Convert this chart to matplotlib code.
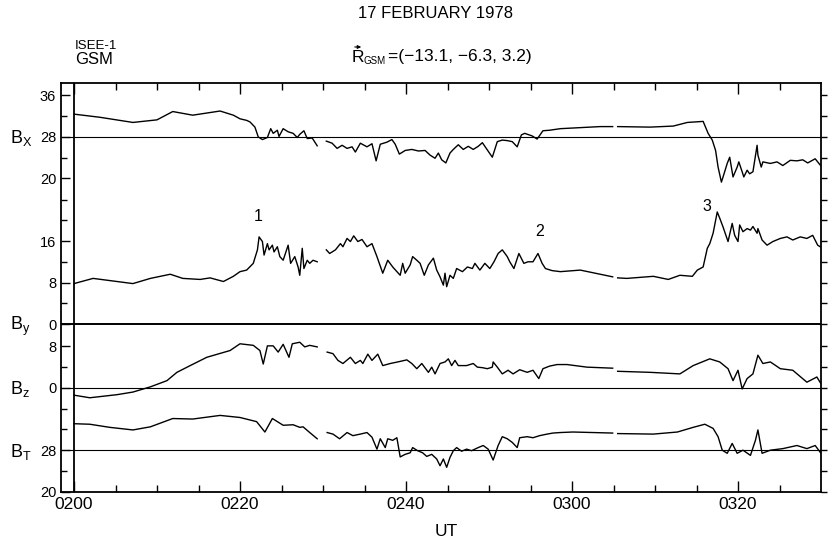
import numpy as np
import matplotlib
matplotlib.use("Agg")
import matplotlib.pyplot as plt
from matplotlib.ticker import FixedLocator, FixedFormatter, NullFormatter
from matplotlib.patches import FancyArrowPatch

plt.rcParams['font.family'] = ['Liberation Sans', 'DejaVu Sans']
plt.rcParams['mathtext.fontset'] = 'custom'
plt.rcParams['mathtext.rm'] = 'Liberation Sans'
plt.rcParams['mathtext.it'] = 'Liberation Sans'

nan = float('nan')

# ---------------- data (time in minutes after 0200 UT, field in nT) ----------------
t_bx = [0.0, 3.1, 7.1, 10.0, 11.9, 14.3, 17.6, 19.2, 20.0, 20.8,
        21.2, 21.8, 22.2, 22.7, 23.3, 23.7, 24.0, 24.5, 24.7, 25.2,
        25.8, 26.4, 26.9, 27.2, 27.7, 28.1, 28.7, 29.3, 29.8, 30.4,
        31.1, 31.7, 32.3, 32.9, 33.5, 33.9, 34.5, 35.3, 35.9, 36.4,
        36.9, 37.7, 38.3, 38.7, 39.2, 39.9, 40.7, 41.5, 42.3, 42.9,
        43.5, 43.9, 44.3, 44.8, 45.3, 45.7, 46.3, 46.9, 47.5, 48.1,
        48.7, 49.2, 49.8, 50.4, 51.0, 51.6, 52.2, 52.8, 53.4, 53.9,
        54.3, 55.2, 55.8, 56.5, 57.3, 58.6, 61.0, 63.4, 64.9, 65.2,
        65.5, 69.4, 72.2, 73.9, 75.8, 76.4, 76.9, 77.3, 77.6, 78.0,
        78.2, 78.7, 79.0, 79.4, 79.9, 80.1, 80.5, 80.7, 81.1, 81.4,
        81.8, 82.3, 82.4, 82.8, 83.0, 83.9, 84.7, 85.4, 86.3, 87.1,
        87.8, 88.4, 89.3, 89.9]
bx = [32.4, 31.8, 30.8, 31.3, 32.9, 32.2, 33.0, 32.2, 31.5, 31.2,
      30.9, 29.9, 28.0, 27.5, 27.9, 29.6, 28.7, 29.3, 28.1, 29.6,
      29.0, 28.7, 27.9, 28.5, 29.2, 27.7, 27.8, 26.3, nan, 27.2,
      26.8, 25.8, 26.4, 25.8, 26.1, 25.1, 26.8, 26.1, 26.7, 23.4,
      26.6, 27.0, 27.5, 26.6, 24.7, 25.4, 25.6, 25.3, 25.4, 24.5,
      23.9, 24.9, 23.6, 23.0, 24.9, 25.6, 26.5, 25.6, 26.2, 25.6,
      26.2, 26.9, 25.5, 24.1, 27.1, 27.4, 27.3, 27.1, 26.1, 28.4,
      28.7, 28.2, 27.6, 29.2, 29.3, 29.6, 29.8, 30.0, 30.0, nan,
      30.0, 29.9, 30.1, 30.8, 31.0, 28.7, 27.4, 25.4, 22.2, 19.3,
      20.3, 22.9, 24.1, 20.3, 22.2, 23.2, 21.3, 20.3, 21.6, 20.9,
      21.3, 26.4, 24.5, 22.2, 23.2, 22.9, 23.2, 22.5, 23.5, 23.4,
      23.6, 23.0, 23.8, 22.6]

t_by = [0.0, 2.3, 5.2, 7.1, 9.2, 11.6, 13.1, 15.2, 16.4, 18.0,
        19.2, 20.0, 20.8, 21.6, 22.1, 22.3, 22.7, 22.9, 23.3, 23.5,
        23.9, 24.1, 24.5, 24.8, 25.2, 25.8, 26.1, 26.6, 27.0, 27.2,
        27.5, 27.7, 28.1, 28.4, 28.8, 29.3, 29.8, 30.4, 30.8, 31.5,
        32.1, 32.4, 32.9, 33.3, 33.7, 34.2, 34.7, 35.3, 35.9, 36.5,
        37.2, 37.8, 38.4, 38.9, 39.3, 39.6, 39.9, 40.5, 40.8, 41.3,
        41.7, 42.2, 42.7, 43.3, 43.7, 44.1, 44.5, 44.7, 44.9, 45.3,
        45.7, 46.1, 46.8, 47.4, 48.0, 48.3, 48.9, 49.5, 50.1, 50.6,
        51.1, 51.6, 52.2, 52.5, 53.0, 53.6, 54.2, 54.7, 55.3, 55.9,
        56.4, 56.8, 57.6, 58.6, 61.0, 63.4, 64.9, 65.2, 65.5, 66.6,
        69.8, 71.6, 73.0, 74.5, 75.1, 75.8, 76.3, 76.6, 77.0, 77.5,
        77.8, 78.2, 78.8, 79.3, 79.6, 80.0, 80.2, 80.6, 81.1, 81.5,
        81.8, 82.3, 82.4, 82.9, 83.5, 84.2, 85.1, 85.9, 86.6, 87.5,
        88.3, 89.0, 89.6, 89.9]
by = [7.8, 8.8, 8.2, 7.8, 8.8, 9.6, 8.8, 8.6, 8.9, 8.2,
      9.2, 10.1, 10.4, 11.7, 14.3, 16.8, 15.9, 13.3, 15.5, 14.3,
      15.2, 13.9, 14.9, 13.0, 12.3, 15.2, 11.7, 13.0, 11.0, 9.4,
      14.6, 10.7, 12.3, 11.7, 12.3, 12.0, nan, 14.3, 13.6, 14.3,
      15.5, 14.9, 16.5, 15.9, 17.0, 15.9, 16.3, 14.9, 15.5, 13.0,
      9.8, 12.3, 11.0, 10.1, 9.4, 11.7, 9.8, 11.4, 13.0, 12.3,
      11.7, 9.4, 11.4, 12.7, 10.4, 9.1, 7.5, 9.8, 7.2, 9.4,
      8.8, 10.7, 10.1, 11.0, 10.7, 11.7, 10.4, 11.7, 10.7, 12.0,
      13.6, 14.3, 13.0, 12.0, 10.7, 13.6, 11.7, 12.0, 12.0, 13.6,
      11.7, 10.7, 10.3, 10.1, 10.4, 9.6, 9.1, nan, 8.9, 8.8,
      9.2, 8.6, 9.4, 9.2, 10.4, 11.0, 14.6, 15.5, 17.5, 21.6,
      20.4, 18.7, 15.9, 19.4, 17.1, 15.9, 19.1, 17.8, 18.4, 18.1,
      18.8, 17.5, 18.4, 16.2, 15.2, 15.9, 16.5, 16.8, 16.2, 16.8,
      16.5, 17.1, 15.2, 14.9]

t_bz = [0.0, 1.9, 5.2, 7.1, 9.2, 11.2, 12.4, 14.0, 16.0, 18.8,
        20.0, 21.6, 22.4, 22.8, 23.3, 24.0, 24.6, 25.2, 25.9, 26.3,
        27.2, 27.8, 28.4, 29.3, 29.8, 30.5, 31.2, 31.8, 32.4, 33.3,
        33.9, 34.5, 34.8, 35.4, 35.9, 36.6, 37.2, 38.1, 39.0, 40.1,
        40.7, 41.3, 41.9, 42.7, 43.1, 43.5, 44.1, 44.7, 45.1, 45.5,
        45.9, 46.3, 47.3, 48.1, 48.6, 49.2, 49.8, 50.4, 50.5, 51.0,
        51.6, 52.3, 52.9, 53.7, 54.6, 55.3, 56.0, 56.5, 57.3, 58.2,
        59.4, 61.8, 64.9, 65.2, 65.5, 69.4, 73.0, 74.6, 76.6, 77.8,
        78.8, 79.4, 80.0, 80.5, 81.1, 81.8, 82.4, 83.0, 83.9, 85.1,
        86.6, 88.3, 89.5, 90.0]
bz = [-1.4, -1.9, -1.3, -0.8, 0.2, 1.4, 3.0, 4.3, 5.9, 7.2,
      8.5, 8.2, 7.2, 4.6, 8.1, 8.1, 6.9, 8.4, 5.9, 8.5,
      8.8, 7.9, 8.2, 7.9, nan, 6.9, 6.6, 5.3, 4.7, 5.9,
      4.7, 5.3, 4.7, 6.5, 5.3, 6.5, 4.3, 4.7, 5.0, 5.4,
      4.7, 3.7, 4.7, 3.0, 4.0, 2.7, 4.7, 5.0, 5.6, 4.3,
      5.3, 4.3, 4.3, 4.7, 4.0, 3.9, 3.7, 4.0, 5.0, 4.0,
      2.7, 3.4, 2.7, 3.5, 3.0, 3.4, 1.8, 3.7, 4.2, 4.5,
      4.5, 4.0, 3.8, nan, 3.2, 3.0, 2.7, 4.3, 5.6, 5.0,
      3.7, 1.4, 3.4, -0.2, 1.8, 2.7, 6.3, 4.7, 5.0, 3.7,
      3.4, 1.1, 2.1, 0.8]

t_bt = [0.0, 1.9, 4.3, 7.1, 9.2, 11.9, 14.3, 17.6, 20.0, 22.0,
        23.0, 23.9, 25.2, 26.4, 27.2, 27.6, 28.4, 29.3, 29.8, 30.5,
        31.2, 32.0, 32.9, 33.6, 34.5, 35.3, 35.9, 36.5, 36.9, 37.5,
        37.8, 38.4, 38.9, 39.3, 39.9, 40.5, 40.8, 41.4, 42.0, 42.5,
        43.1, 43.7, 44.1, 44.5, 44.9, 45.3, 45.7, 46.1, 46.7, 47.3,
        47.9, 48.7, 49.3, 49.9, 50.5, 51.1, 51.6, 52.2, 52.8, 53.4,
        53.7, 54.6, 55.3, 56.1, 57.0, 57.7, 58.6, 60.1, 64.9, 65.2,
        65.5, 69.8, 72.7, 74.6, 76.0, 77.0, 77.6, 78.1, 78.7, 79.3,
        79.9, 80.6, 81.5, 82.1, 82.4, 82.9, 83.9, 85.4, 87.1, 88.3,
        89.3, 90.0]
bt = [33.1, 33.0, 32.4, 31.9, 32.5, 34.1, 34.0, 34.7, 34.3, 33.5,
      31.5, 34.1, 32.8, 32.9, 32.4, 32.5, 31.4, 30.2, nan, 31.4,
      31.1, 30.2, 31.4, 30.8, 31.1, 31.4, 30.5, 28.2, 30.2, 28.5,
      30.2, 29.9, 30.4, 26.7, 27.2, 27.5, 28.5, 27.9, 27.5, 26.8,
      27.2, 26.3, 25.0, 26.3, 24.7, 26.6, 27.9, 28.5, 27.8, 28.2,
      27.9, 28.5, 28.9, 28.2, 26.1, 28.9, 30.6, 30.2, 29.5, 28.5,
      30.4, 30.6, 30.4, 30.8, 31.1, 31.3, 31.4, 31.5, 31.3, nan,
      31.2, 31.1, 31.5, 32.4, 33.0, 32.2, 30.6, 28.0, 27.4, 29.3,
      27.4, 28.0, 27.0, 29.9, 31.9, 27.4, 28.0, 28.3, 28.9, 28.3,
      28.9, 27.4]

# reference levels (nT) drawn as horizontal lines
ref_bx, ref_by, ref_bz, ref_bt = 28, 0, 0, 28

# tick values per component
bx_major, bx_minor = [20, 28, 36], [24, 32]
by_major, by_minor = [0, 8, 16], [4, 12, 20, 24]
bz_major, bz_minor = [0, 8], [-4, 4]
bt_major, bt_minor = [20, 28], [24, 32]

time_ticks = [0, 20, 40, 60, 80]
time_labels = ['0200', '0220', '0240', '0300', '0320']

# event markers (time min, By nT)
events = [('1', 22.2, 20.8), ('2', 56.1, 17.8), ('3', 76.2, 22.7)]

# ---------------- layout: vertical offsets of the stacked traces ----------------
OFF = {'bx': 40.35, 'by': 32.3, 'bz': 20.0, 'bt': -20.0}

W, H = 831, 542
fig = plt.figure(figsize=(W / 100, H / 100), dpi=100)
fx = lambda px: px / W
fy = lambda py: 1 - py / H

ax = fig.add_axes([fx(61), fy(491.7), fx(821) - fx(61), fy(83) - fy(491.7)])
ax.set_xlim(-13 / 8.3, 90)
ax.set_ylim(0, 78.75)

lw_trace = 1.0
for t, v, key in [(t_bx, bx, 'bx'), (t_by, by, 'by'), (t_bz, bz, 'bz'), (t_bt, bt, 'bt')]:
    ax.plot(t, np.array(v) + OFF[key], color='black', lw=lw_trace)

ax.axhline(ref_bx + OFF['bx'], color='black', lw=0.8)
ax.axhline(ref_by + OFF['by'], color='black', lw=1.4)
ax.axhline(ref_bz + OFF['bz'], color='black', lw=0.8)
ax.axhline(ref_bt + OFF['bt'], color='black', lw=0.8)
ax.axvline(0, color='black', lw=1.3)

for s in ax.spines.values():
    s.set_linewidth(1.3)

# y ticks
maj_pos, maj_lab = [], []
for vals, key in [(bx_major, 'bx'), (by_major, 'by'), (bz_major, 'bz'), (bt_major, 'bt')]:
    for v in vals:
        maj_pos.append(v + OFF[key])
        maj_lab.append(str(v))
min_pos = [v + OFF[k] for vals, k in [(bx_minor, 'bx'), (by_minor, 'by'),
                                      (bz_minor, 'bz'), (bt_minor, 'bt')] for v in vals]
ax.yaxis.set_major_locator(FixedLocator(maj_pos))
ax.yaxis.set_major_formatter(FixedFormatter(maj_lab))
ax.yaxis.set_minor_locator(FixedLocator(min_pos))
ax.yaxis.set_minor_formatter(NullFormatter())
ax.tick_params(axis='y', which='major', direction='in', length=6.5, width=1.0,
               labelsize=10.5, pad=3.5, right=False)
ax.tick_params(axis='y', which='minor', direction='in', length=4, width=1.0, right=False)

# x ticks
ax.xaxis.set_major_locator(FixedLocator(time_ticks))
ax.xaxis.set_major_formatter(FixedFormatter(time_labels))
ax.xaxis.set_minor_locator(FixedLocator(list(range(5, 90, 5))))
ax.tick_params(axis='x', which='major', direction='in', length=8, width=1.0,
               labelsize=12.5, pad=4, top=True)
ax.tick_params(axis='x', which='minor', direction='in', length=5, width=1.0, top=True)

# right-hand ticks pointing outward
ax2 = ax.twinx()
ax2.set_ylim(ax.get_ylim())
ax2.yaxis.set_major_locator(FixedLocator(sorted(maj_pos + min_pos)))
ax2.yaxis.set_major_formatter(NullFormatter())
ax2.tick_params(axis='y', direction='out', length=4.5, width=1.0)
for s in ax2.spines.values():
    s.set_visible(False)

# event numbers
for lab, t, v in events:
    ax.text(t, v + OFF['by'], lab, ha='center', va='center', fontsize=11.5)

# component labels
def comp_label(py, main, sub):
    fig.text(fx(10), fy(py), r'$\mathregular{%s_{%s}}$' % (main, sub),
             ha='left', va='center', fontsize=13)

comp_label(138, 'B', 'X')
comp_label(326, 'B', 'y')
comp_label(389, 'B', 'z')
comp_label(452, 'B', 'T')

# headings
fig.text(fx(435), fy(14), '17 FEBRUARY 1978', ha='center', va='center', fontsize=12)
fig.text(fx(75), fy(46), 'ISEE-1', ha='left', va='center', fontsize=9.5)
fig.text(fx(75), fy(59), 'GSM', ha='left', va='center', fontsize=12)
fig.text(fx(352), fy(57), 'R', ha='left', va='center', fontsize=12.5)
fig.text(fx(363), fy(61), 'GSM', ha='left', va='center', fontsize=7)
fig.text(fx(388), fy(57), '=(\u221213.1, \u22126.3, 3.2)', ha='left', va='center', fontsize=12.5)
arr = FancyArrowPatch((fx(352), fy(47)), (fx(364), fy(47)), transform=fig.transFigure,
                      arrowstyle='-|>', mutation_scale=5, lw=0.8, color='black')
fig.patches.append(arr)

fig.text(fx(446), fy(532), 'UT', ha='center', va='center', fontsize=12.5)

fig.savefig('out.png', dpi=100, facecolor='white')
